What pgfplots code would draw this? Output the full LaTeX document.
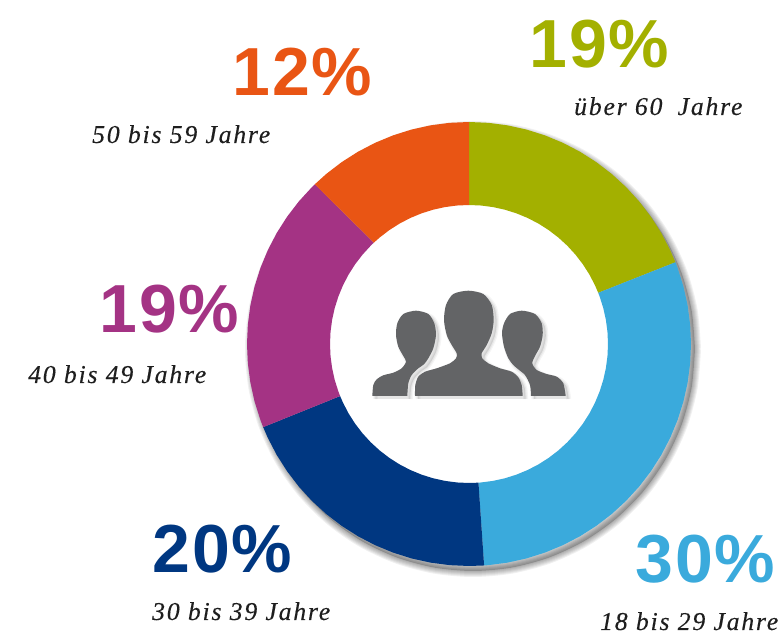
\documentclass[border=0pt]{standalone}
\usepackage{fontspec}
\setmainfont{Liberation Sans}
\newfontfamily\pctfont[LetterSpace=3]{Liberation Sans}
\newfontfamily\labelfont[LetterSpace=7,ItalicFeatures={FakeBold=0.25}]{Liberation Serif}
\usepackage{pgfplots}
\usepackage{pgfplotstable}
\pgfplotsset{compat=1.18}
\definecolor{cOlive}{HTML}{A3B000}
\definecolor{cBlue}{HTML}{3AAADC}
\definecolor{cNavy}{HTML}{003781}
\definecolor{cPurple}{HTML}{A43384}
\definecolor{cOrange}{HTML}{E95514}
\definecolor{cGrey}{HTML}{636466}
\definecolor{cText}{HTML}{1E1E1E}
\newcommand{\pct}[1]{\fontsize{68}{68}\selectfont\pctfont\bfseries #1}
\newcommand{\agelabel}[1]{\fontsize{25.7}{25.7}\selectfont\labelfont\itshape #1}

% outer edge of the ring, used for the drop shadow (angle, radius)
\pgfplotstableread[row sep=\\]{
a r\\ 0 222\\ 10 222\\ 20 222\\ 30 222\\ 40 222\\ 50 222\\ 60 222\\ 70 222\\ 80 222\\ 90 222\\
100 222\\ 110 222\\ 120 222\\ 130 222\\ 140 222\\ 150 222\\ 160 222\\ 170 222\\ 180 222\\
190 222\\ 200 222\\ 210 222\\ 220 222\\ 230 222\\ 240 222\\ 250 222\\ 260 222\\ 270 222\\
280 222\\ 290 222\\ 300 222\\ 310 222\\ 320 222\\ 330 222\\ 340 222\\ 350 222\\ 360 222\\
}\outeredge
% hole, white over the shadow
\pgfplotstableread[row sep=\\]{
a r\\ 0 141\\ 15 141\\ 30 141\\ 45 141\\ 60 141\\ 75 141\\ 90 141\\ 105 141\\ 120 141\\ 135 141\\ 150 141\\ 165 141\\
180 141\\ 195 141\\ 210 141\\ 225 141\\ 240 141\\ 255 141\\ 270 141\\ 285 141\\ 300 141\\ 315 141\\ 330 141\\ 345 141\\ 360 141\\
}\holeedge

% icon outlines, origin at the ring centre
\pgfplotstableread[row sep=\\]{
x y\\ -54 -52\\ -53.7 -41\\ -50.7 -32.7\\ -44 -27.7\\ -32.3 -24.3\\ -19 -19.3\\ -13 -14.3\\ -12.3 -9.3\\
-17.3 -1\\ -22.3 9\\ -25 24\\ -23 39\\ -15.7 50\\ -0.7 53.3\\ 14.3 50\\ 22.7 39\\ 24.7 24\\ 22.7 10.7\\
17.7 -1\\ 12.7 -9.3\\ 13.3 -14.3\\ 19.3 -19.3\\ 31 -24.3\\ 42.7 -27.7\\ 49.3 -33.3\\ 52.7 -41\\ 53.7 -52\\
}\iconmid
\pgfplotstableread[row sep=\\]{
x y\\ -96.7 -52\\ -95.7 -41\\ -92.3 -35.3\\ -85.7 -31.3\\ -75.7 -28.7\\ -67.3 -24.3\\ -63 -17.7\\ -65.7 -12\\
-70.7 -2.7\\ -73 9\\ -71.7 20.7\\ -65.7 30\\ -53 33.3\\ -40.7 30\\ -34.7 20.7\\ -33 9\\ -35.7 -4.3\\
-40.7 -14.3\\ -45 -20.3\\ -50.7 -24.3\\ -57.3 -31\\ -60.7 -39.3\\ -61.7 -52\\
}\iconleft
\pgfplotstableread[row sep=\\]{
x y\\ 62 -52\\ 61 -41\\ 56 -31\\ 49.3 -25.3\\ 44.3 -21\\ 39.3 -14.3\\ 35 -2.7\\ 33 10.7\\ 35 20.7\\ 41 30\\
52.7 33.3\\ 66 30\\ 72.7 20.7\\ 73.7 9\\ 71 -2.7\\ 66 -12\\ 63.3 -19.3\\ 67.7 -26\\ 77.7 -30\\ 87.7 -32.7\\
94.3 -39.3\\ 96.7 -52\\
}\iconright

\begin{document}
\begin{tikzpicture}
\begin{axis}[
  at={(0,0)}, anchor=south west,
  hide axis, scale only axis, clip=false,
  width=782pt, height=636pt,
  xmin=-469, xmax=313, ymin=-292, ymax=344,
  enlargelimits=false,
  every axis plot/.append style={no markers},
  shadowA/.style={smooth, tension=0.45, draw=black, line width=5pt, draw opacity=0.04, fill=black, fill opacity=0.05, xshift=3pt, yshift=-3pt},
  shadowB/.style={smooth, tension=0.45, draw=black, line width=2.5pt, draw opacity=0.05, fill=black, fill opacity=0.05, xshift=3pt, yshift=-3pt},
  iconfill/.style={smooth, tension=0.45, draw=none, fill=cGrey},
]
% ring shadow: one soft disc and strokes of falling width round its edge
\addplot[data cs=polar, smooth, draw=none, fill=black, fill opacity=0.2, xshift=4pt, yshift=-5pt]
  table[x=a,y=r] {\outeredge};
\pgfplotsinvokeforeach{12,10,8,6,4,2}{
  \addplot[data cs=polar, smooth, draw=black, line width=#1pt, draw opacity=0.06, xshift=4pt, yshift=-5pt]
    table[x=a,y=r] {\outeredge};
}
\addplot[data cs=polar, smooth, draw=none, fill=white] table[x=a,y=r] {\holeedge};
% 19% ueber 60
\addplot[data cs=polar, fill=cOlive, draw=none] coordinates {
(90,222)(85,222)(80,222)(75,222)(70,222)(65,222)(60,222)(55,222)(50,222)(45,222)(40,222)(35,222)(30,222)(25,222)(21.6,222)
(21.6,139)(25,139)(30,139)(35,139)(40,139)(45,139)(50,139)(55,139)(60,139)(65,139)(70,139)(75,139)(80,139)(85,139)(90,139)
};
% 30% 18 bis 29
\addplot[data cs=polar, fill=cBlue, draw=none] coordinates {
(21.6,222)(20,222)(15,222)(10,222)(5,222)(0,222)(-5,222)(-10,222)(-15,222)(-20,222)(-25,222)(-30,222)(-35,222)(-40,222)(-45,222)(-50,222)(-55,222)(-60,222)(-65,222)(-70,222)(-75,222)(-80,222)(-85,222)(-86.1,222)
(-86.1,139)(-85,139)(-80,139)(-75,139)(-70,139)(-65,139)(-60,139)(-55,139)(-50,139)(-45,139)(-40,139)(-35,139)(-30,139)(-25,139)(-20,139)(-15,139)(-10,139)(-5,139)(0,139)(5,139)(10,139)(15,139)(20,139)(21.6,139)
};
% 20% 30 bis 39
\addplot[data cs=polar, fill=cNavy, draw=none] coordinates {
(-86.1,222)(-90,222)(-95,222)(-100,222)(-105,222)(-110,222)(-115,222)(-120,222)(-125,222)(-130,222)(-135,222)(-140,222)(-145,222)(-150,222)(-155,222)(-158,222)
(-158,139)(-155,139)(-150,139)(-145,139)(-140,139)(-135,139)(-130,139)(-125,139)(-120,139)(-115,139)(-110,139)(-105,139)(-100,139)(-95,139)(-90,139)(-86.1,139)
};
% 19% 40 bis 49
\addplot[data cs=polar, fill=cPurple, draw=none] coordinates {
(-158,222)(-160,222)(-165,222)(-170,222)(-175,222)(-180,222)(-185,222)(-190,222)(-195,222)(-200,222)(-205,222)(-210,222)(-215,222)(-220,222)(-225,222)(-226,222)
(-226.8,139)(-225,139)(-220,139)(-215,139)(-210,139)(-205,139)(-200,139)(-195,139)(-190,139)(-185,139)(-180,139)(-175,139)(-170,139)(-165,139)(-160,139)(-158,139)
};
% 12% 50 bis 59
\addplot[data cs=polar, fill=cOrange, draw=none] coordinates {
(-226,222)(-230,222)(-235,222)(-240,222)(-245,222)(-250,222)(-255,222)(-260,222)(-265,222)(-270,222)
(-270,139)(-265,139)(-260,139)(-255,139)(-250,139)(-245,139)(-240,139)(-235,139)(-230,139)(-226.8,139)
};
% icon shadow, then icon
\addplot[shadowA] table {\iconleft};
\addplot[shadowB] table {\iconleft};
\addplot[shadowA] table {\iconright};
\addplot[shadowB] table {\iconright};
\addplot[shadowA] table {\iconmid};
\addplot[shadowB] table {\iconmid};
\addplot[iconfill] table {\iconleft};
\addplot[iconfill] table {\iconright};
\addplot[iconfill] table {\iconmid};
% labels
\node[anchor=base west, text=cOlive, inner sep=0pt] at (axis cs:60,276) {\pct{19\%}};
\node[anchor=base west, text=cText, inner sep=0pt] at (axis cs:105,229) {\agelabel{über 60\hspace{7pt} Jahre}};
\node[anchor=base west, text=cOrange, inner sep=0pt] at (axis cs:-237,248) {\pct{12\%}};
\node[anchor=base west, text=cText, inner sep=0pt] at (axis cs:-377,201) {\agelabel{50 bis 59 Jahre}};
\node[anchor=base west, text=cPurple, inner sep=0pt] at (axis cs:-370,11) {\pct{19\%}};
\node[anchor=base west, text=cText, inner sep=0pt] at (axis cs:-441,-39) {\agelabel{40 bis 49 Jahre}};
\node[anchor=base west, text=cNavy, inner sep=0pt] at (axis cs:-317,-229) {\pct{20\%}};
\node[anchor=base west, text=cText, inner sep=0pt] at (axis cs:-317,-276) {\agelabel{30 bis 39 Jahre}};
\node[anchor=base west, text=cBlue, inner sep=0pt] at (axis cs:166,-239) {\pct{30\%}};
\node[anchor=base west, text=cText, inner sep=0pt] at (axis cs:131,-286) {\agelabel{18 bis 29 Jahre}};
\end{axis}
\pgfresetboundingbox
\path[use as bounding box] (0,0) rectangle (782pt,636pt);
\end{tikzpicture}
\end{document}
